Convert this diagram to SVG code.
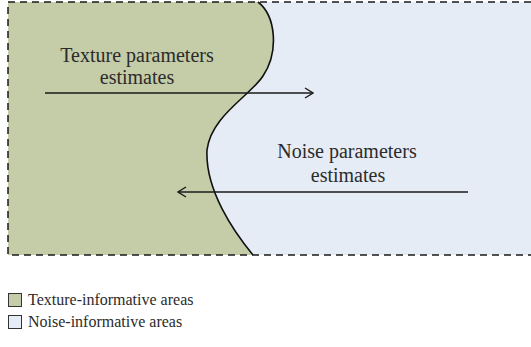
<svg xmlns="http://www.w3.org/2000/svg" width="531" height="347" viewBox="0 0 531 347">
  <defs>
    <style>
      .lbl { font-family: "Liberation Serif", "Times New Roman", serif; fill: #2b2b2b; }
      .big { font-size: 20px; }
      .leg { font-size: 16px; }
      .frame { fill: none; stroke: #1a1a1a; stroke-width: 1.5; stroke-dasharray: 7 5; }
      .arrow { fill: none; stroke: #1a1a1a; stroke-width: 1.3; marker-end: url(#chev); }
      .green { fill: #c5cca8; }
      .blue { fill: #e6ecf6; }
    </style>
    <marker id="chev" viewBox="0 0 10 12" refX="9" refY="6" markerWidth="10" markerHeight="12" markerUnits="userSpaceOnUse" orient="auto">
      <polyline points="1,1 9,6 1,11" fill="none" stroke="#1a1a1a" stroke-width="1.4"/>
    </marker>
  </defs>

  <!-- regions -->
  <g id="noise-area">
    <rect class="blue" x="8" y="2" width="523" height="253"/>
  </g>
  <g id="texture-area">
    <path class="green" d="M8,2 L258,2 C276,16 279,52 263,76 C250,96 211,116 207,150 C205,190 234,232 253,255 L8,255 Z"/>
    <path d="M258,2 C276,16 279,52 263,76 C250,96 211,116 207,150 C205,190 234,232 253,255" fill="none" stroke="#111" stroke-width="1.6"/>
  </g>

  <!-- dashed frame, open on the right -->
  <g id="frame">
    <path class="frame" d="M531,2 L8,2 L8,255 L531,255"/>
  </g>

  <!-- labels -->
  <g id="texture-label">
    <text class="lbl big" x="137" y="62" text-anchor="middle">Texture parameters</text>
    <text class="lbl big" x="137" y="84" text-anchor="middle">estimates</text>
  </g>
  <g id="noise-label">
    <text class="lbl big" x="347" y="158" text-anchor="middle">Noise parameters</text>
    <text class="lbl big" x="348" y="182" text-anchor="middle">estimates</text>
  </g>

  <!-- connectors -->
  <g id="connectors">
    <line class="arrow" x1="45" y1="93" x2="313" y2="93"/>
    <line class="arrow" x1="468" y1="192" x2="178" y2="192"/>
  </g>

  <!-- legend -->
  <g id="legend">
    <rect class="green" x="8.5" y="293.5" width="13" height="13" stroke="#333" stroke-width="1"/>
    <text class="lbl leg" x="28" y="305">Texture-informative areas</text>
    <rect class="blue" x="8.5" y="315.5" width="13" height="13" stroke="#333" stroke-width="1"/>
    <text class="lbl leg" x="28" y="327">Noise-informative areas</text>
  </g>
</svg>
